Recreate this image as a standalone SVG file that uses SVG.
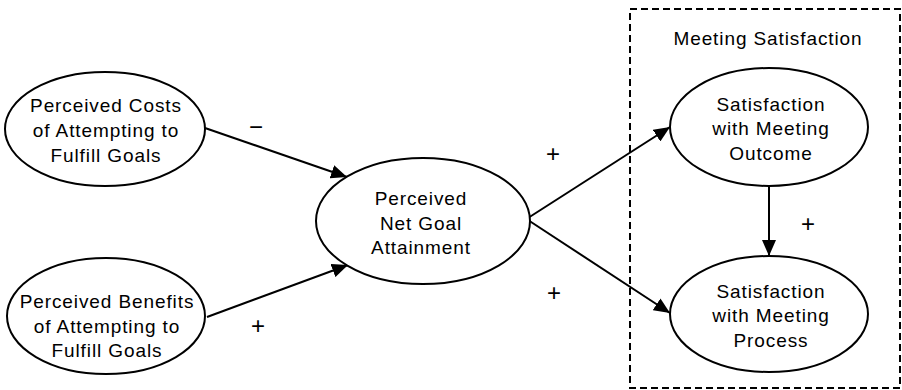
<svg xmlns="http://www.w3.org/2000/svg" width="902" height="390" viewBox="0 0 902 390">
<style>
.n{fill:#fff;stroke:#000;stroke-width:2}
.t{font-family:"Liberation Sans",Arial,sans-serif;font-size:19px;letter-spacing:0.9px;fill:#000;text-anchor:middle}
.c{stroke:#000;stroke-width:2;fill:none}
.s{font-family:"Liberation Sans",Arial,sans-serif;font-size:24px;fill:#000;text-anchor:middle}
</style>
<defs>
<marker id="ah" viewBox="0 0 16 14" refX="16" refY="7" markerWidth="16" markerHeight="14" markerUnits="userSpaceOnUse" orient="auto">
<path d="M0,0 L16,7 L0,14 Z" fill="#000"/>
</marker>
</defs>
<rect id="group" x="630" y="9" width="270" height="379" fill="none" stroke="#000" stroke-width="2" stroke-dasharray="7,4"/>
<text class="t" x="768" y="45">Meeting Satisfaction</text>
<g id="connectors">
<line class="c" x1="205" y1="128" x2="347" y2="177" marker-end="url(#ah)"/>
<line class="c" x1="207" y1="317" x2="348" y2="265" marker-end="url(#ah)"/>
<line class="c" x1="528" y1="218" x2="670" y2="127" marker-end="url(#ah)"/>
<line class="c" x1="528" y1="220" x2="670" y2="313" marker-end="url(#ah)"/>
<line class="c" x1="769" y1="187" x2="769" y2="256" marker-end="url(#ah)"/>
<text class="s" x="256" y="135">−</text>
<text class="s" x="258" y="334">+</text>
<text class="s" x="553" y="162">+</text>
<text class="s" x="554" y="301">+</text>
<text class="s" x="808" y="232">+</text>
</g>
<g id="costs">
<ellipse class="n" cx="105" cy="129" rx="100" ry="57"/>
<text class="t" x="106" y="112">Perceived Costs</text>
<text class="t" x="106" y="137">of Attempting to</text>
<text class="t" x="106" y="162">Fulfill Goals</text>
</g>
<g id="benefits">
<ellipse class="n" cx="106" cy="316" rx="99" ry="58"/>
<text class="t" x="107" y="308">Perceived Benefits</text>
<text class="t" x="107" y="333">of Attempting to</text>
<text class="t" x="107" y="357">Fulfill Goals</text>
</g>
<g id="net">
<ellipse class="n" cx="423" cy="221" rx="107" ry="63"/>
<text class="t" x="421" y="205">Perceived</text>
<text class="t" x="421" y="230">Net Goal</text>
<text class="t" x="421" y="254">Attainment</text>
</g>
<g id="outcome">
<ellipse class="n" cx="769" cy="127" rx="99" ry="59"/>
<text class="t" x="771" y="111">Satisfaction</text>
<text class="t" x="771" y="135">with Meeting</text>
<text class="t" x="771" y="160">Outcome</text>
</g>
<g id="process">
<ellipse class="n" cx="769" cy="314" rx="99" ry="58"/>
<text class="t" x="771" y="298">Satisfaction</text>
<text class="t" x="771" y="322">with Meeting</text>
<text class="t" x="771" y="347">Process</text>
</g>
</svg>
